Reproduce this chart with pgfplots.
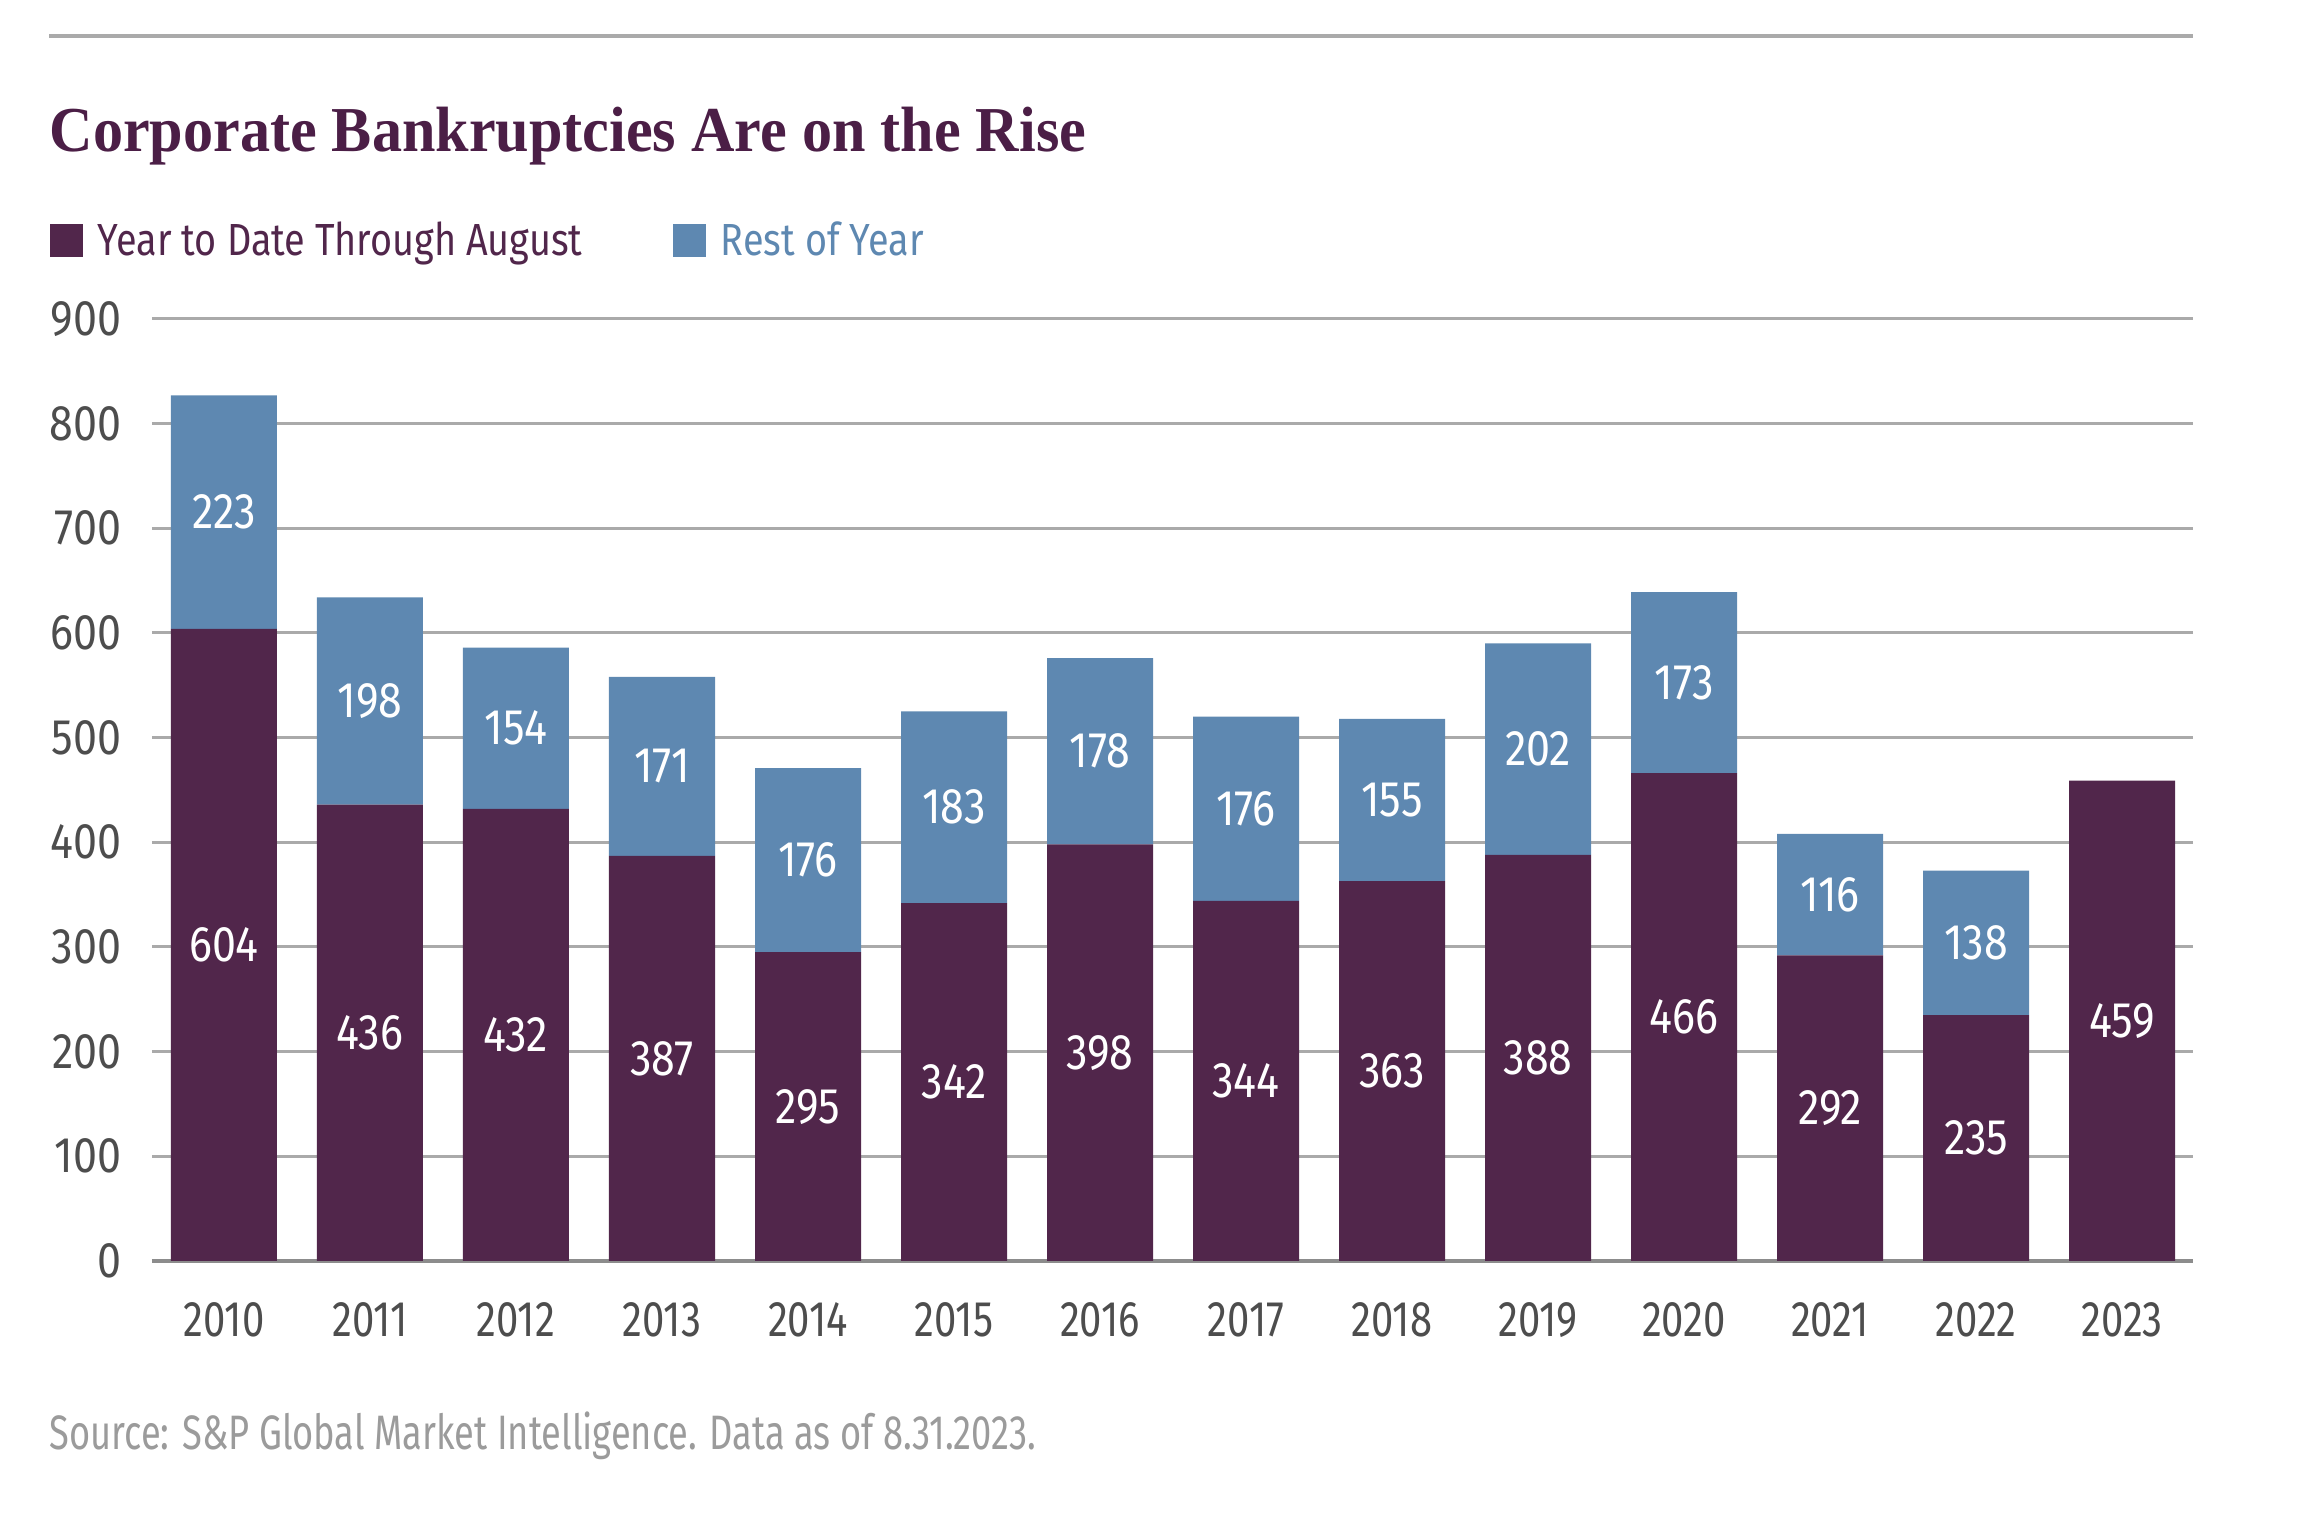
\documentclass[border=0pt]{standalone}
\usepackage{fontspec}
\setmainfont{Fira Sans}[FakeStretch=0.75]
\newfontfamily\numfont{Fira Sans}[FakeStretch=0.86]
\newfontfamily\yearfont{Fira Sans}[FakeStretch=0.80]
\newfontfamily\legfont{Fira Sans}[FakeStretch=0.84]
\newfontfamily\titlefont{Liberation Serif}[FakeStretch=0.94]
\usepackage{pgfplots}
\usepackage{pgfplotstable}
\pgfplotsset{compat=1.18}
\definecolor{ytdc}{RGB}{81,38,75}
\definecolor{restc}{RGB}{94,136,177}
\definecolor{titlec}{RGB}{75,30,70}
\definecolor{gridc}{RGB}{170,170,170}
\definecolor{axisc}{RGB}{140,140,140}
\definecolor{tickc}{RGB}{77,77,77}
\definecolor{srcc}{RGB}{155,155,155}
\pgfplotstableread{
x ytd rest
0 604 223
1 436 198
2 432 154
3 387 171
4 295 176
5 342 183
6 398 178
7 344 176
8 363 155
9 388 202
10 466 173
11 292 116
12 235 138
13 459 0
}\datatable
\pgfplotstableread{
x y lab
0 302 604
0 715.5 223
1 218 436
1 535 198
2 216 432
2 509 154
3 193.5 387
3 472.5 171
4 147.5 295
4 383 176
5 171 342
5 433.5 183
6 199 398
6 487 178
7 172 344
7 432 176
8 181.5 363
8 440.5 155
9 194 388
9 489 202
10 233 466
10 552.5 173
11 146 292
11 350 116
12 117.5 235
12 304 138
13 229.5 459
}\labeltable
\begin{document}
\begin{tikzpicture}
\path[use as bounding box] (0,0) rectangle (693pt,454.2pt);
\draw[gridc, line width=1.2pt] (14.7pt,443.4pt) -- (657.9pt,443.4pt);
\node[anchor=base west, inner sep=0pt, text=titlec, font=\titlefont\bfseries\fontsize{19.2}{22}\selectfont] at (14.7pt,408.6pt) {Corporate Bankruptcies Are on the Rise};
\node[anchor=base west, inner sep=0pt, text=srcc, font=\fontsize{14.5}{16}\selectfont] at (14.7pt,19.2pt) {Source: S\&P Global Market Intelligence. Data as of 8.31.2023.};
\begin{axis}[
  at={(45.6pt,75.9pt)}, anchor=south west,
  scale only axis, width=612.3pt, height=282.6pt,
  ybar stacked, bar width=0.726,
  xmin=-0.493, xmax=13.486, ymin=0, ymax=900,
  xtick=data,
  xticklabels={2010,2011,2012,2013,2014,2015,2016,2017,2018,2019,2020,2021,2022,2023},
  ytick={0,100,...,900},
  major tick length=0pt,
  axis x line*=bottom, axis y line*=left,
  x axis line style={-, draw=axisc, line width=1.1pt},
  y axis line style={draw=none},
  ymajorgrids, grid style={gridc, line width=0.9pt},
  /pgf/number format/assume math mode=true,
  tick label style={text=tickc},
  xticklabel style={anchor=center, yshift=-17.7pt, inner sep=0pt, font=\yearfont\fontsize{15}{17}\selectfont},
  yticklabel style={anchor=east, inner sep=0pt, xshift=-9pt, font=\numfont\fontsize{15}{17}\selectfont},
  legend columns=2,
  legend style={draw=none, fill=none, at={(rel axis cs:-0.0505,1.0830)}, anchor=west,
    inner sep=0pt, font=\legfont\fontsize{13.5}{15}\selectfont,
    /tikz/every even column/.append style={column sep=27pt},
    nodes={inner sep=0pt}},
  legend image code/.code={\fill[#1] (0pt,-5pt) rectangle (10pt,5pt);},
  legend cell align=left,
]
\addplot[fill=ytdc, draw=none] table[x=x, y=ytd] {\datatable};
\addlegendentry{\hspace{4.5pt}\textcolor{ytdc}{Year to Date Through August}}
\addplot[fill=restc, draw=none] table[x=x, y=rest] {\datatable};
\addlegendentry{\hspace{4.5pt}\textcolor{restc}{Rest of Year}}
\end{axis}
\begin{axis}[
  at={(45.6pt,75.9pt)}, anchor=south west,
  scale only axis, width=612.3pt, height=282.6pt,
  xmin=-0.493, xmax=13.486, ymin=0, ymax=900,
  hide axis,
]
\addplot[draw=none, mark=none, nodes near coords, point meta=explicit symbolic,
  every node near coord/.style={anchor=center, text=white, inner sep=0pt, font=\numfont\fontsize{15}{17}\selectfont}]
  table[x=x, y=y, meta=lab] {\labeltable};
\end{axis}
\end{tikzpicture}
\end{document}
